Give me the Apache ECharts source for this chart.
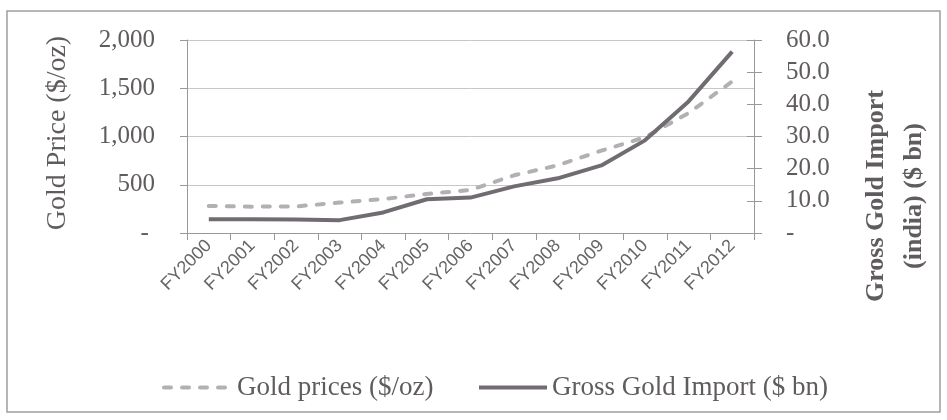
<!DOCTYPE html>
<html>
<head>
<meta charset="utf-8">
<script src="https://cdn.jsdelivr.net/npm/echarts@6/dist/echarts.min.js"></script>
<style>
html,body{margin:0;padding:0;background:#fff;}
#chart{width:947px;height:420px;}
</style>
</head>
<body>
<div id="chart"></div>
<script>
const categories = ['FY2000','FY2001','FY2002','FY2003','FY2004','FY2005','FY2006','FY2007','FY2008','FY2009','FY2010','FY2011','FY2012'];
const goldPrices = [280, 273, 275, 315, 352, 404, 446, 598, 701, 853, 992, 1243, 1570];
const goldImports = [4.3, 4.3, 4.2, 4.0, 6.4, 10.5, 11.0, 14.5, 17.0, 21.0, 28.8, 40.9, 56.4];
const leftTicks = [0, 500, 1000, 1500, 2000];
const rightTicks = [0, 10, 20, 30, 40, 50, 60];
const seriesNames = ['Gold prices ($/oz)', 'Gross Gold Import ($ bn)'];
const leftTitle = 'Gold Price ($/oz)';
const rightTitle = 'Gross Gold Import\n(india) ($ bn)';

const SERIF = '"Liberation Serif", "DejaVu Serif", serif';
const TXT = '#5f5b5f';
const DASH_COLOR = '#b3b0b3';
const SOLID_COLOR = '#716c71';

const chart = echarts.init(document.getElementById('chart'));
const leftFmt = v => v === 0 ? '- ' : v.toLocaleString('en-US');
const rightFmt = v => v === 0 ? '-' : v.toFixed(1);

const legendBase = {
  top: 369, itemWidth: 68, itemHeight: 14,
  itemStyle: { color: 'rgba(0,0,0,0)', borderWidth: 0, opacity: 0 },
  textStyle: { fontFamily: SERIF, fontSize: 27, color: TXT }
};

chart.setOption({
  animation: false,
  backgroundColor: '#fff',
  grid: { left: 187, right: 193, top: 40, bottom: 187 },
  legend: [
    Object.assign({}, legendBase, { data: [seriesNames[0]], left: 157,
      lineStyle: { width: 4, color: DASH_COLOR, type: [7, 11], cap: 'round' } }),
    Object.assign({}, legendBase, { data: [seriesNames[1]], left: 472,
      lineStyle: { width: 4, color: SOLID_COLOR } })
  ],
  xAxis: {
    type: 'category',
    data: categories,
    boundaryGap: true,
    axisLine: { lineStyle: { color: '#9a989a', width: 1 } },
    axisTick: { show: true, length: 7, lineStyle: { color: '#9a989a' } },
    axisLabel: { interval: 0, rotate: 45, margin: 10, fontFamily: '"Liberation Sans", Arial, sans-serif', fontSize: 18, color: '#666' },
    splitLine: { show: false }
  },
  yAxis: [
    {
      type: 'value', position: 'left', min: leftTicks[0], max: leftTicks[leftTicks.length - 1], interval: 500,
      axisLine: { show: true, lineStyle: { color: '#9a989a' } },
      axisTick: { show: true, length: 7, lineStyle: { color: '#9a989a' } },
      axisLabel: { formatter: leftFmt, margin: 32, fontFamily: SERIF, fontSize: 25, color: TXT },
      splitLine: { show: true, lineStyle: { color: '#c9c6c9', width: 1 } }
    },
    {
      type: 'value', position: 'right', min: rightTicks[0], max: rightTicks[rightTicks.length - 1], interval: 10,
      axisLine: { show: true, lineStyle: { color: '#9a989a' } },
      axisTick: { show: true, inside: true, length: 7, lineStyle: { color: '#9a989a' } },
      axisLabel: { formatter: rightFmt, margin: 32, fontFamily: SERIF, fontSize: 25, color: TXT },
      splitLine: { show: false }
    },
    {
      type: 'value', position: 'right', min: rightTicks[0], max: rightTicks[rightTicks.length - 1], interval: 10,
      axisLine: { show: false },
      axisTick: { show: true, length: 8, lineStyle: { color: '#9a989a' } },
      axisLabel: { show: false },
      splitLine: { show: false }
    }
  ],
  series: [
    {
      name: seriesNames[0], type: 'line', yAxisIndex: 0, data: goldPrices,
      symbol: 'none', smooth: false,
      lineStyle: { color: DASH_COLOR, width: 4, type: [7, 11], cap: 'round' },
      itemStyle: { color: DASH_COLOR }
    },
    {
      name: seriesNames[1], type: 'line', yAxisIndex: 1, data: goldImports,
      symbol: 'none', smooth: false,
      lineStyle: { color: SOLID_COLOR, width: 4 },
      itemStyle: { color: SOLID_COLOR }
    }
  ],
  graphic: [
    { type: 'rect', shape: { x: 7, y: 11, width: 933, height: 401 }, style: { fill: 'none', stroke: '#a09ea0', lineWidth: 1.5 }, silent: true },
    { type: 'text', x: 58, y: 133, rotation: Math.PI / 2,
      style: { text: leftTitle, fontFamily: SERIF, fontSize: 28, fill: TXT, align: 'center', verticalAlign: 'middle' } },
    { type: 'text', x: 895, y: 196, rotation: Math.PI / 2,
      style: { text: rightTitle, fontFamily: SERIF, fontSize: 26, fontWeight: 'bold', lineHeight: 38, fill: TXT, align: 'center', verticalAlign: 'middle' } }
  ]
});
</script>
</body>
</html>
